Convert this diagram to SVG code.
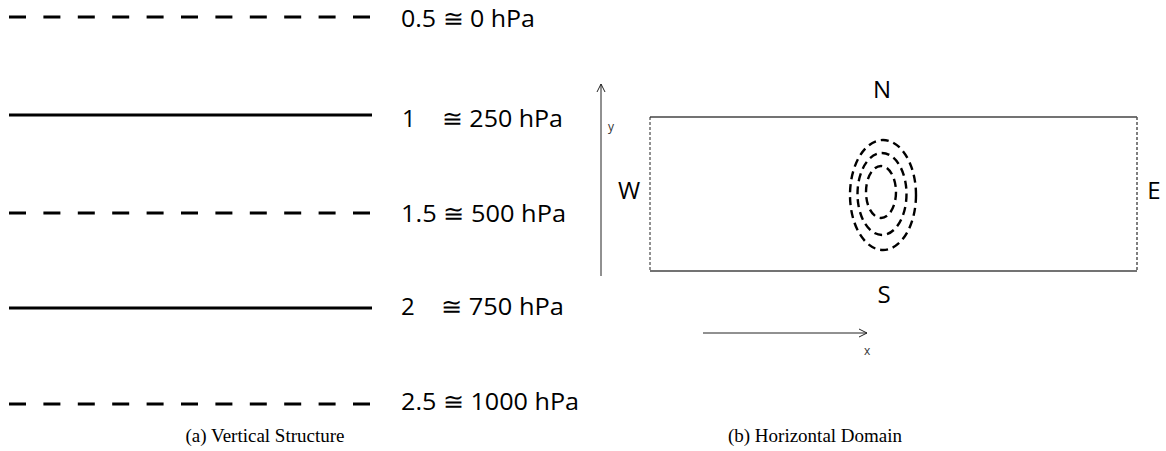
<svg xmlns="http://www.w3.org/2000/svg" width="1166" height="451" viewBox="0 0 1166 451">
<style>
.lvl{stroke:#000;stroke-width:2.8;fill:none}
.dash{stroke-dasharray:17 17.4}
.lab{font-family:"Open Sans","Liberation Sans",sans-serif;font-size:24px;fill:#000}
.cap{font-family:"Liberation Serif","DejaVu Serif",serif;font-size:19px;fill:#000}
.ax{stroke:#222;stroke-width:1;fill:none}
.ell{stroke:#000;stroke-width:2.4;fill:none;stroke-dasharray:8 5}
.small{font-family:"Open Sans","Liberation Sans",sans-serif;font-size:12px;fill:#333}
</style>
<defs>
<marker id="open" viewBox="0 0 10 10" refX="9" refY="5" markerWidth="10" markerHeight="10" markerUnits="userSpaceOnUse" orient="auto">
<path d="M1,1 L9,5 L1,9" fill="none" stroke="#222" stroke-width="1"/>
</marker>
</defs>
<g id="vertical">
<g id="lvl05"><line class="lvl dash" x1="9" y1="17" x2="372" y2="17"/><text class="lab" x="401" y="27" textLength="134" lengthAdjust="spacingAndGlyphs">0.5 ≅ 0 hPa</text></g>
<g id="lvl1"><line class="lvl" x1="9" y1="115" x2="372" y2="115"/><text class="lab" x="402" y="127">1</text><text class="lab" x="442" y="127" textLength="121" lengthAdjust="spacingAndGlyphs">≅ 250 hPa</text></g>
<g id="lvl15"><line class="lvl dash" x1="9" y1="213" x2="372" y2="213"/><text class="lab" x="401" y="222" textLength="165" lengthAdjust="spacingAndGlyphs">1.5 ≅ 500 hPa</text></g>
<g id="lvl2"><line class="lvl" x1="9" y1="308" x2="372" y2="308"/><text class="lab" x="401" y="315">2</text><text class="lab" x="441" y="315" textLength="123" lengthAdjust="spacingAndGlyphs">≅ 750 hPa</text></g>
<g id="lvl25"><line class="lvl dash" x1="9" y1="404" x2="372" y2="404"/><text class="lab" x="401" y="410" textLength="178" lengthAdjust="spacingAndGlyphs">2.5 ≅ 1000 hPa</text></g>
<text class="cap" x="265" y="442" text-anchor="middle">(a) Vertical Structure</text>
</g>
<g id="horizontal">
<g id="domain">
<line x1="650" y1="117" x2="1137" y2="117" stroke="#444" stroke-width="1.5"/>
<line x1="650" y1="271" x2="1137" y2="271" stroke="#444" stroke-width="1.5"/>
<line x1="650" y1="117" x2="650" y2="271" stroke="#222" stroke-width="1" stroke-dasharray="3 2"/>
<line x1="1137" y1="117" x2="1137" y2="271" stroke="#555" stroke-width="1.5" stroke-dasharray="3 2"/>
</g>
<g id="vortex">
<ellipse class="ell" cx="883" cy="195" rx="33" ry="55"/>
<ellipse class="ell" cx="882" cy="194" rx="24.5" ry="41"/>
<ellipse class="ell" cx="881" cy="192" rx="15" ry="26"/>
</g>
<text class="lab" x="882" y="98" text-anchor="middle">N</text>
<text class="lab" x="884" y="303" text-anchor="middle">S</text>
<text class="lab" x="629" y="199" text-anchor="middle">W</text>
<text class="lab" x="1154" y="199" text-anchor="middle">E</text>
<g id="connectors">
<line class="ax" x1="601" y1="276" x2="601" y2="84" marker-end="url(#open)"/>
<line class="ax" x1="703" y1="333" x2="867" y2="333" marker-end="url(#open)"/>
</g>
<text class="small" x="608" y="131">y</text>
<text class="small" x="864" y="355">x</text>
<text class="cap" x="815" y="442" text-anchor="middle">(b) Horizontal Domain</text>
</g>
</svg>
